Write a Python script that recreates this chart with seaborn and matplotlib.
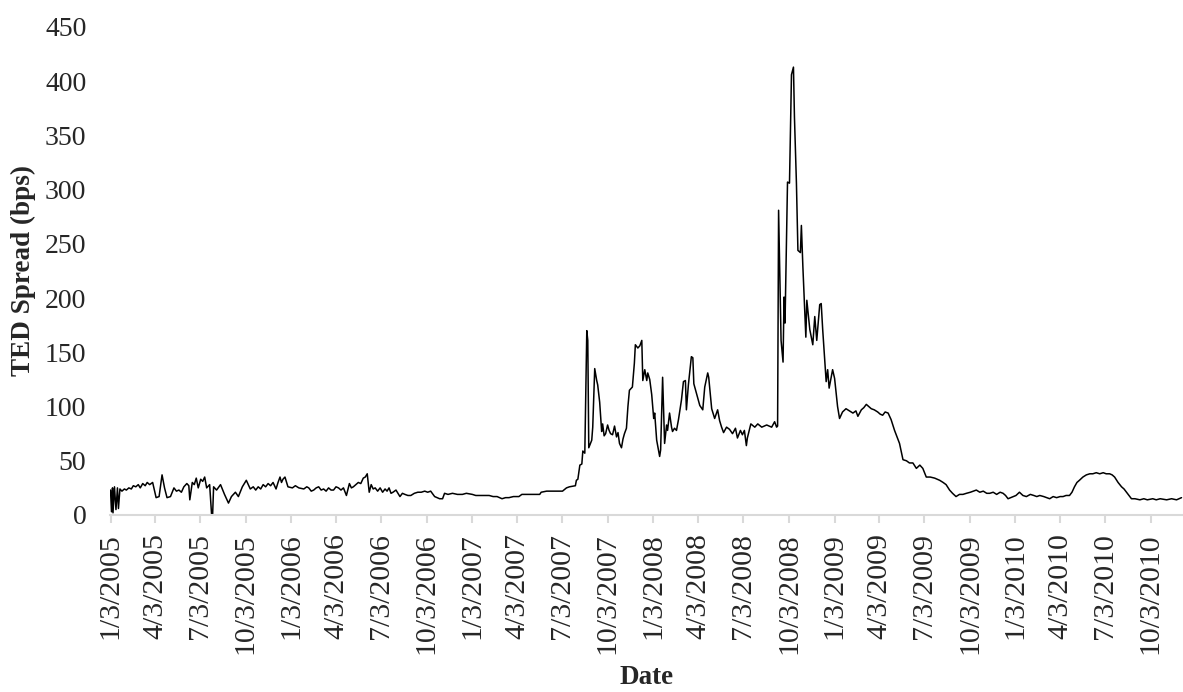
import matplotlib
matplotlib.use("Agg")
import matplotlib.pyplot as plt
import seaborn as sns
import pandas as pd
import numpy as np

# ---- data ----
dates_2005 = ["2005-01-03","2005-01-05","2005-01-07","2005-01-08","2005-01-11","2005-01-14","2005-01-17","2005-01-19",
              "2005-01-22","2005-01-26","2005-01-31","2005-02-04","2005-02-09","2005-02-14","2005-02-18","2005-02-23",
              "2005-02-28","2005-03-04","2005-03-09","2005-03-14","2005-03-18","2005-03-23","2005-03-29","2005-04-05",
              "2005-04-11","2005-04-15","2005-04-17","2005-04-22","2005-04-27","2005-05-04","2005-05-11","2005-05-16",
              "2005-05-21","2005-05-26","2005-05-31","2005-06-06","2005-06-10","2005-06-12","2005-06-17","2005-06-21",
              "2005-06-25","2005-06-29","2005-07-04","2005-07-08","2005-07-12","2005-07-16","2005-07-22","2005-07-26",
              "2005-07-28","2005-07-30","2005-08-05","2005-08-13","2005-08-21","2005-08-29","2005-09-04","2005-09-12",
              "2005-09-18","2005-09-26","2005-10-04","2005-10-12","2005-10-18","2005-10-23","2005-10-28","2005-11-02",
              "2005-11-07","2005-11-12","2005-11-17","2005-11-22","2005-11-27","2005-12-03","2005-12-07","2005-12-11",
              "2005-12-14","2005-12-17","2005-12-21","2005-12-27"]
values_2005 = [23,3,25,2,26,5,25,6,
               24,22,24,23,25,24,27,26,
               28,25,29,27,30,28,30,16,
               17,30,37,25,16,17,25,22,
               23,21,26,29,27,14,30,28,
               34,25,33,31,35,25,28,0,
               0,26,23,28,19,11,17,21,
               17,26,32,24,26,23,26,24,
               28,26,29,27,30,24,30,35,
               30,33,35,26]

dates_2006 = ["2006-01-05","2006-01-11","2006-01-18","2006-01-28","2006-02-03","2006-02-07","2006-02-12","2006-02-17",
              "2006-02-22","2006-02-27","2006-03-04","2006-03-09","2006-03-14","2006-03-19","2006-03-24","2006-03-29",
              "2006-04-03","2006-04-08","2006-04-13","2006-04-18","2006-04-24","2006-04-30","2006-05-04","2006-05-08",
              "2006-05-13","2006-05-18","2006-05-23","2006-05-28","2006-06-01","2006-06-05","2006-06-09","2006-06-13",
              "2006-06-17","2006-06-21","2006-06-26","2006-07-01","2006-07-06","2006-07-11","2006-07-15","2006-07-19",
              "2006-07-23","2006-07-27","2006-08-02","2006-08-10","2006-08-15","2006-08-20","2006-08-26","2006-09-01",
              "2006-09-08","2006-09-15","2006-09-22","2006-09-29","2006-10-05","2006-10-11","2006-10-19","2006-10-29",
              "2006-11-04","2006-11-08","2006-11-15","2006-11-24","2006-12-04","2006-12-14","2006-12-22"]
values_2006 = [25,27,25,24,26,25,22,23,
               25,26,23,24,22,25,23,23,
               26,25,23,25,18,29,25,26,
               28,30,29,34,35,38,21,28,
               24,25,22,25,21,24,22,25,
               20,21,23,17,20,19,18,18,
               20,21,21,22,21,22,17,15,
               15,20,19,20,19,19,20]

dates_2007 = ["2007-01-03","2007-01-10","2007-01-17","2007-01-26","2007-02-06","2007-02-14","2007-02-22","2007-03-04",
              "2007-03-11","2007-03-18","2007-03-27","2007-04-07","2007-04-13","2007-04-22","2007-05-03","2007-05-10",
              "2007-05-19","2007-05-22","2007-06-02","2007-06-14","2007-06-25","2007-07-04","2007-07-12","2007-07-18",
              "2007-07-30","2007-08-01","2007-08-04","2007-08-08","2007-08-12","2007-08-14","2007-08-18","2007-08-22",
              "2007-08-24","2007-08-26","2007-09-01","2007-09-03","2007-09-07","2007-09-11","2007-09-13","2007-09-17",
              "2007-09-21","2007-09-23","2007-09-26","2007-09-29","2007-10-03","2007-10-06","2007-10-09","2007-10-13",
              "2007-10-17","2007-10-21","2007-10-24","2007-10-27","2007-10-31","2007-11-03","2007-11-06","2007-11-10",
              "2007-11-13","2007-11-16","2007-11-22","2007-11-26","2007-11-28","2007-12-03","2007-12-07","2007-12-11",
              "2007-12-13","2007-12-17","2007-12-21","2007-12-23","2007-12-27","2007-12-31"]
values_2007 = [19,18,18,18,18,17,17,15,
               16,16,17,17,19,19,19,19,
               19,21,22,22,22,22,25,26,
               27,32,33,46,47,59,57,170,
               161,62,69,81,135,124,120,104,
               77,84,73,75,83,78,75,74,
               82,72,76,66,62,70,75,80,
               100,115,118,140,157,154,156,161,
               124,134,124,131,125,111]

dates_2008 = ["2008-01-04","2008-01-06","2008-01-10","2008-01-16","2008-01-18","2008-01-22","2008-01-26","2008-01-30",
              "2008-02-01","2008-02-05","2008-02-09","2008-02-11","2008-02-15","2008-02-19","2008-02-23","2008-02-29",
              "2008-03-04","2008-03-08","2008-03-10","2008-03-14","2008-03-20","2008-03-23","2008-03-25","2008-03-31",
              "2008-04-06","2008-04-12","2008-04-16","2008-04-22","2008-04-24","2008-04-30","2008-05-06","2008-05-09",
              "2008-05-12","2008-05-16","2008-05-20","2008-05-24","2008-05-30","2008-06-05","2008-06-11","2008-06-17",
              "2008-06-21","2008-06-27","2008-07-01","2008-07-05","2008-07-09","2008-07-11","2008-07-18","2008-07-26",
              "2008-08-01","2008-08-09","2008-08-19","2008-08-29","2008-09-04","2008-09-08","2008-09-10","2008-09-12",
              "2008-09-17","2008-09-21","2008-09-23","2008-09-25","2008-09-30","2008-10-04","2008-10-08","2008-10-12",
              "2008-10-14","2008-10-18","2008-10-21","2008-10-26","2008-10-28","2008-10-31","2008-11-06","2008-11-08",
              "2008-11-14","2008-11-20","2008-11-24","2008-11-28","2008-12-04","2008-12-07","2008-12-10","2008-12-17",
              "2008-12-20","2008-12-23","2008-12-30"]
values_2008 = [89,94,69,54,60,127,66,83,
               78,94,81,77,80,78,88,106,
               123,124,97,120,146,145,121,111,
               101,97,118,131,127,98,89,93,
               97,87,81,76,81,79,75,80,
               71,78,74,78,64,71,84,81,
               84,81,83,81,86,81,82,281,
               161,141,201,177,307,306,406,413,
               367,306,244,242,267,229,164,198,
               171,157,183,161,194,195,171,123,
               134,117,134]

dates_2009 = ["2009-01-03","2009-01-09","2009-01-13","2009-01-19","2009-01-26","2009-02-02","2009-02-09","2009-02-15",
              "2009-02-19","2009-02-26","2009-03-03","2009-03-08","2009-03-13","2009-03-18","2009-03-24","2009-03-31",
              "2009-04-05","2009-04-10","2009-04-15","2009-04-21","2009-04-27","2009-05-04","2009-05-09","2009-05-14",
              "2009-05-21","2009-05-28","2009-06-03","2009-06-10","2009-06-17","2009-06-24","2009-06-30","2009-07-07",
              "2009-07-15","2009-07-24","2009-08-03","2009-08-10","2009-08-16","2009-08-23","2009-08-29","2009-09-05",
              "2009-09-12","2009-09-19","2009-09-26","2009-10-04","2009-10-10","2009-10-16","2009-10-23","2009-10-30",
              "2009-11-06","2009-11-12","2009-11-19","2009-11-26","2009-12-03","2009-12-09","2009-12-14","2009-12-19"]
values_2009 = [126,100,89,95,98,96,94,96,
               91,97,99,102,100,98,97,95,
               93,92,95,94,88,78,72,66,
               51,50,48,48,43,46,43,35,
               35,34,32,30,28,23,20,17,
               19,19,20,21,22,23,21,22,
               20,20,21,19,21,20,18,15]

dates_2010 = ["2010-01-04","2010-01-11","2010-01-18","2010-01-25","2010-02-02","2010-02-09","2010-02-15","2010-02-21",
              "2010-03-01","2010-03-07","2010-03-13","2010-03-20","2010-03-27","2010-04-03","2010-04-09","2010-04-15",
              "2010-04-22","2010-04-27","2010-05-02","2010-05-07","2010-05-12","2010-05-19","2010-05-26","2010-06-02",
              "2010-06-08","2010-06-15","2010-06-22","2010-06-29","2010-07-05","2010-07-12","2010-07-17","2010-07-22",
              "2010-07-29","2010-08-05","2010-08-10","2010-08-15","2010-08-20","2010-08-25","2010-09-01","2010-09-11",
              "2010-09-19","2010-09-26","2010-10-07","2010-10-14","2010-10-22","2010-11-04","2010-11-14","2010-11-24",
              "2010-12-04"]
values_2010 = [18,21,18,17,19,18,17,18,
               17,16,15,17,16,17,17,18,
               18,21,26,30,32,35,37,38,
               38,39,38,39,38,38,37,35,
               30,26,24,21,18,15,15,14,
               15,14,15,14,15,14,15,14,
               16]

tick_dates = ["2005-01-03","2005-04-03","2005-07-03","2005-10-03",
              "2006-01-03","2006-04-03","2006-07-03","2006-10-03",
              "2007-01-03","2007-04-03","2007-07-03","2007-10-03",
              "2008-01-03","2008-04-03","2008-07-03","2008-10-03",
              "2009-01-03","2009-04-03","2009-07-03","2009-10-03",
              "2010-01-03","2010-04-03","2010-07-03","2010-10-03"]
y_ticks = [0, 50, 100, 150, 200, 250, 300, 350, 400, 450]

# ---- build frame ----
all_dates = dates_2005 + dates_2006 + dates_2007 + dates_2008 + dates_2009 + dates_2010
all_values = values_2005 + values_2006 + values_2007 + values_2008 + values_2009 + values_2010
df = pd.DataFrame({"Date": pd.to_datetime(all_dates), "TED": all_values})

sns.set_style("white")
plt.rcParams['font.family'] = ['Liberation Serif', 'DejaVu Serif']

fig = plt.figure(figsize=(11.83, 6.92), dpi=100)
ax = fig.add_axes([0.093, 1 - 515 / 692, 1 - 0.093, (515 - 27) / 692])

sns.lineplot(data=df, x="Date", y="TED", ax=ax, color="black", linewidth=1.1)

ax.set_xlim(pd.Timestamp("2005-01-02"), pd.Timestamp("2010-12-07"))
ax.set_ylim(0, 450)

tk = pd.to_datetime(tick_dates)
ax.set_xticks(tk)
ax.set_xticklabels([f"{d.month}/{d.day}/{d.year}" for d in tk], rotation=90, fontsize=21.5)
ax.set_yticks(y_ticks)
ax.set_yticklabels([str(v) for v in y_ticks], fontsize=20)

for s in ["top", "right", "left"]:
    ax.spines[s].set_visible(False)
ax.spines["bottom"].set_color("#d9d9d9")
ax.spines["bottom"].set_linewidth(1.5)
ax.tick_params(axis="x", which="major", direction="out", length=6, width=1.5,
               color="#d9d9d9", pad=7, bottom=True)
ax.tick_params(axis="y", length=0, pad=17)

ax.set_xlabel("Date", fontsize=19.5, fontweight="bold", labelpad=8)
ax.set_ylabel("TED Spread (bps)", fontsize=19.5, fontweight="bold")
ax.yaxis.set_label_coords(-0.069, 0.5)
ax.grid(False)

fig.savefig("out.png", dpi=100)
